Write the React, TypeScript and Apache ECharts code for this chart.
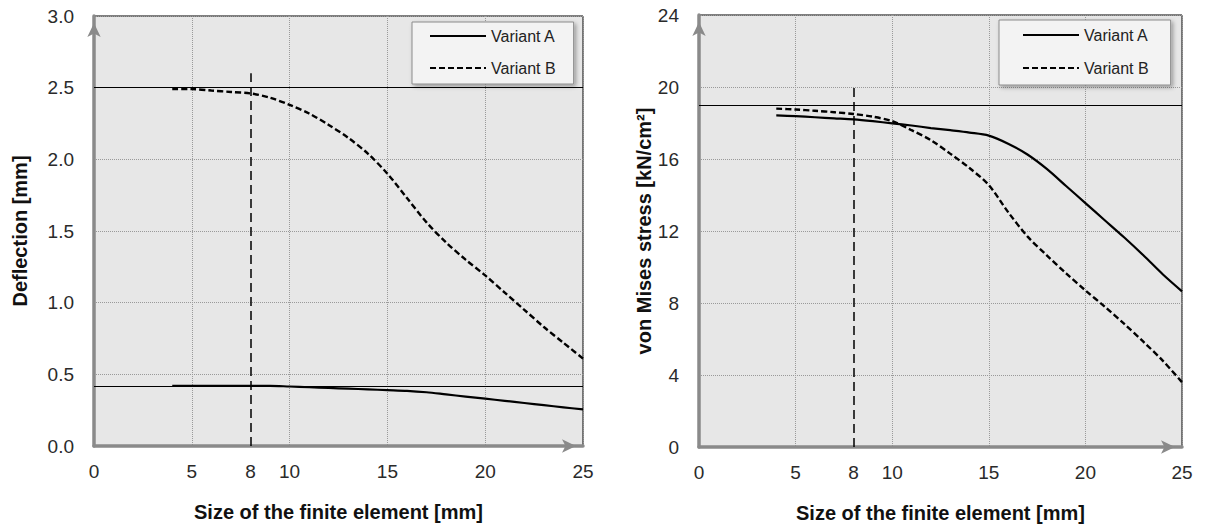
import React, { useEffect, useRef } from "react";
import * as echarts from "echarts";

// Element sizes [mm] at which the models were evaluated
const elementSizes = [4, 5, 6, 7, 8, 9, 10, 11, 12, 13, 14, 15, 16, 17, 18, 19, 20, 21, 22, 23, 24, 25];

// Left chart: deflection [mm]
const deflectionA = [0.42, 0.42, 0.42, 0.42, 0.42, 0.42, 0.415, 0.41, 0.405, 0.4, 0.395, 0.39, 0.385, 0.375, 0.36, 0.345, 0.33, 0.315, 0.3, 0.285, 0.27, 0.255];
const deflectionB = [2.49, 2.49, 2.48, 2.47, 2.46, 2.43, 2.38, 2.32, 2.24, 2.15, 2.04, 1.9, 1.73, 1.56, 1.42, 1.3, 1.19, 1.07, 0.95, 0.83, 0.72, 0.61];

// Right chart: von Mises stress [kN/cm2]
const stressA = [18.42, 18.38, 18.32, 18.26, 18.2, 18.1, 17.98, 17.86, 17.72, 17.6, 17.47, 17.3, 16.85, 16.25, 15.45, 14.5, 13.55, 12.6, 11.65, 10.65, 9.6, 8.65];
const stressB = [18.8, 18.75, 18.68, 18.6, 18.5, 18.35, 18.1, 17.6, 17.05, 16.3, 15.5, 14.55, 13.05, 11.7, 10.65, 9.65, 8.7, 7.8, 6.85, 5.85, 4.8, 3.6];

// Axis ticks
const xTickLabels = [0, 5, 8, 10, 15, 20, 25];
const deflectionRefLines = [2.5, 0.425];
const stressRefLines = [19];
const chosenSize = 8;
const deflectionMarkerTop = 2.6;
const stressMarkerTop = 20;

const seriesNames = ["Variant A", "Variant B"];

const FONT = "'Liberation Sans', Arial, sans-serif";
const LABEL_COLOR = "#2a2a2a";
const AXIS_GRAY = "#8a8a8a";

const toPairs = (xs: number[], ys: number[]) => xs.map((x, i) => [x, ys[i]]);

const axisLine = {
  show: true,
  lineStyle: { color: AXIS_GRAY, width: 3.5 },
  symbol: ["none", "arrow"],
  symbolSize: [10, 14],
  symbolOffset: [0, -7],
};

function makeXAxis(gridIndex: number) {
  return {
    type: "value",
    gridIndex,
    min: 0,
    max: 25,
    interval: 5,
    name: "Size of the finite element [mm]",
    nameLocation: "middle",
    nameGap: 56,
    nameTextStyle: { fontFamily: FONT, fontSize: 20, fontWeight: "bold", color: "#111" },
    axisLine,
    axisTick: { show: false },
    axisLabel: {
      customValues: xTickLabels,
      fontFamily: FONT,
      fontSize: 19,
      color: LABEL_COLOR,
      margin: 16,
    },
    splitLine: { show: true, lineStyle: { color: "#9a9a9a", type: "dotted", width: 1 } },
  };
}

function makeYAxis(gridIndex: number, max: number, interval: number, name: string, nameGap: number, decimals: number) {
  return {
    type: "value",
    gridIndex,
    min: 0,
    max,
    interval,
    name,
    nameLocation: "middle",
    nameGap,
    nameTextStyle: { fontFamily: FONT, fontSize: 20, fontWeight: "bold", color: "#111" },
    axisLine,
    axisTick: { show: false },
    axisLabel: {
      fontFamily: FONT,
      fontSize: 19,
      color: LABEL_COLOR,
      margin: 20,
      formatter: (v: number) => v.toFixed(decimals),
    },
    splitLine: { show: true, lineStyle: { color: "#9a9a9a", type: "dotted", width: 1 } },
  };
}

function makeMarkLine(refLines: number[], markerTop: number) {
  const solid = { color: "#000", width: 1, type: "solid" };
  const dashed = { color: "#000", width: 1.5, type: [9, 5] };
  return {
    silent: true,
    symbol: "none",
    animation: false,
    label: { show: false },
    emphasis: { disabled: true },
    data: [
      ...refLines.map((v) => ({ yAxis: v, lineStyle: solid })),
      [
        { coord: [chosenSize, 0], lineStyle: dashed },
        { coord: [chosenSize, markerTop], lineStyle: dashed },
      ],
    ],
  };
}

function makeSeries(gridIndex: number, a: number[], b: number[], refLines: number[], markerTop: number) {
  return [
    {
      name: seriesNames[0],
      type: "line",
      xAxisIndex: gridIndex,
      yAxisIndex: gridIndex,
      data: toPairs(elementSizes, a),
      symbol: "none",
      smooth: 0.3,
      lineStyle: { color: "#000", width: 2.2, type: "solid" },
      itemStyle: { color: "#000" },
      markLine: makeMarkLine(refLines, markerTop),
      z: 3,
    },
    {
      name: seriesNames[1],
      type: "line",
      xAxisIndex: gridIndex,
      yAxisIndex: gridIndex,
      data: toPairs(elementSizes, b),
      symbol: "none",
      smooth: 0.3,
      lineStyle: { color: "#000", width: 2.4, type: [6, 3] },
      itemStyle: { color: "#000" },
      z: 3,
    },
  ];
}

function makeLegend(left: number, top: number, padding: number[], itemGap: number) {
  return {
    left,
    top,
    orient: "vertical",
    data: seriesNames,
    itemWidth: 56,
    itemHeight: 14,
    itemGap,
    padding,
    backgroundColor: "#f3f3f3",
    borderColor: "#8c8c8c",
    borderWidth: 1,
    shadowBlur: 4,
    shadowColor: "rgba(0,0,0,0.35)",
    shadowOffsetX: 2,
    shadowOffsetY: 2,
    selectedMode: false,
    itemStyle: { opacity: 0 },
    lineStyle: { width: 2 },
    textStyle: { fontFamily: FONT, fontSize: 16, color: "#222" },
  };
}

export default function App() {
  const ref = useRef<HTMLDivElement>(null);

  useEffect(() => {
    if (!ref.current) return;
    const chart = echarts.init(ref.current, undefined, { renderer: "svg" });
    chart.setOption({
      animation: false,
      backgroundColor: "#fff",
      grid: [
        { left: 94, top: 16, width: 489, height: 430, show: true, backgroundColor: "#e7e7e7", borderColor: "#000", borderWidth: 1 },
        { left: 699, top: 15, width: 483, height: 437, show: true, backgroundColor: "#e7e7e7", borderColor: "#000", borderWidth: 1 },
      ],
      xAxis: [makeXAxis(0), makeXAxis(1)],
      yAxis: [
        makeYAxis(0, 3, 0.5, "Deflection [mm]", 64, 1),
        makeYAxis(1, 24, 4, "von Mises stress [kN/cm²]", 32, 0),
      ],
      legend: [
        makeLegend(412, 22, [6, 18, 8, 17], 16),
        makeLegend(999, 20, [7, 22, 9, 23], 17),
      ],
      series: [
        ...makeSeries(0, deflectionA, deflectionB, deflectionRefLines, deflectionMarkerTop),
        ...makeSeries(1, stressA, stressB, stressRefLines, stressMarkerTop),
      ],
    });
    return () => chart.dispose();
  }, []);

  return (
    <div
      ref={ref}
      style={{ position: "absolute", left: 0, top: 0, width: 1205, height: 528 }}
    />
  );
}
